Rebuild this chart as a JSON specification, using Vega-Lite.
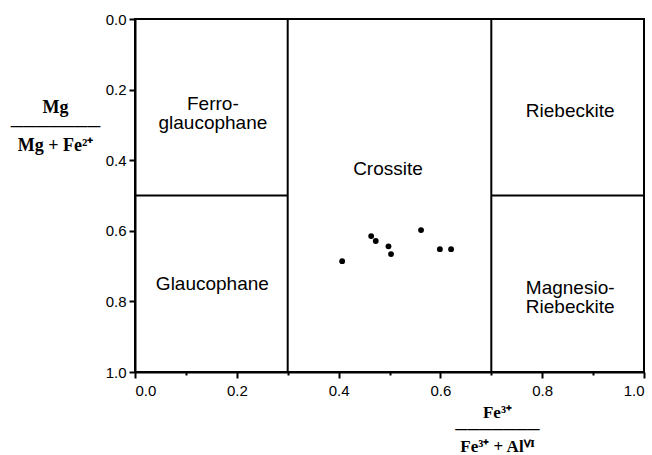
{
  "$schema": "https://vega.github.io/schema/vega-lite/v6.json",
  "width": 509,
  "height": 353,
  "autosize": {"type": "none"},
  "padding": {"left": 135, "top": 19, "right": 8, "bottom": 83},
  "background": "white",
  "config": {
    "view": {"stroke": "black", "strokeWidth": 2},
    "axis": {
      "grid": false,
      "domainColor": "black",
      "domainWidth": 2,
      "tickColor": "black",
      "tickWidth": 2,
      "labelFont": "Liberation Sans",
      "labelFontSize": 15,
      "labelColor": "black",
      "titleColor": "black",
      "titleFont": "Liberation Serif",
      "titleFontWeight": "bold",
      "titleFontSize": 18
    }
  },
  "datasets": {
    "lines": [
      {"x": 0.3, "x2": 0.3, "y": 0, "y2": 1},
      {"x": 0.7, "x2": 0.7, "y": 0, "y2": 1},
      {"x": 0, "x2": 0.3, "y": 0.5, "y2": 0.5},
      {"x": 0.7, "x2": 1, "y": 0.5, "y2": 0.5}
    ],
    "samples": [
      {"fe3": 0.407, "mg": 0.686},
      {"fe3": 0.464, "mg": 0.615},
      {"fe3": 0.473, "mg": 0.629},
      {"fe3": 0.498, "mg": 0.644},
      {"fe3": 0.503, "mg": 0.666},
      {"fe3": 0.562, "mg": 0.598},
      {"fe3": 0.599, "mg": 0.652},
      {"fe3": 0.621, "mg": 0.652}
    ],
    "fields": [
      {"label": "Ferro-\nglaucophane", "x": 0.153, "y": 0.242},
      {"label": "Glaucophane", "x": 0.152, "y": 0.751},
      {"label": "Crossite", "x": 0.497, "y": 0.425},
      {"label": "Riebeckite", "x": 0.855, "y": 0.261},
      {"label": "Magnesio-\nRiebeckite", "x": 0.855, "y": 0.763}
    ]
  },
  "layer": [
    {
      "data": {"name": "lines"},
      "mark": {"type": "rule", "color": "black", "strokeWidth": 2},
      "encoding": {
        "x": {
          "field": "x", "type": "quantitative",
          "scale": {"domain": [0, 1], "nice": false},
          "axis": {
            "values": [0, 0.1, 0.2, 0.3, 0.4, 0.5, 0.6, 0.7, 0.8, 0.9, 1.0],
            "labelExpr": "round(datum.value*10)%2==0 ? format(datum.value,'.1f') : ''",
            "tickSize": {"condition": {"test": "round(datum.value*10)%2==0", "value": 6}, "value": 3},
            "labelPadding": 5,
            "title": ["Fe³⁺", "───────", "Fe³⁺ + Alⱽᴵ"],
            "titleFontSize": 17,
            "titleLineHeight": 17,
            "titleAlign": "center",
            "titleAnchor": "start",
            "titleBaseline": "top",
            "titleX": 362,
            "titleY": 32
          }
        },
        "x2": {"field": "x2"},
        "y": {
          "field": "y", "type": "quantitative",
          "scale": {"domain": [0, 1], "nice": false, "reverse": true},
          "axis": {
            "values": [0, 0.1, 0.2, 0.3, 0.4, 0.5, 0.6, 0.7, 0.8, 0.9, 1.0],
            "labelExpr": "round(datum.value*10)%2==0 ? format(datum.value,'.1f') : ''",
            "tickSize": {"condition": {"test": "round(datum.value*10)%2==0", "value": 6}, "value": 3},
            "labelPadding": 3,
            "title": ["Mg", "───────", "Mg + Fe²⁺"],
            "titleLineHeight": 19,
            "titleAngle": 0,
            "titleAlign": "center",
            "titleAnchor": "start",
            "titleBaseline": "top",
            "titleX": -80,
            "titleY": 79
          }
        },
        "y2": {"field": "y2"}
      }
    },
    {
      "data": {"name": "samples"},
      "mark": {"type": "circle", "color": "black", "opacity": 1, "size": 34},
      "encoding": {
        "x": {"field": "fe3", "type": "quantitative"},
        "y": {"field": "mg", "type": "quantitative"}
      }
    },
    {
      "data": {"name": "fields"},
      "mark": {"type": "text", "font": "Liberation Sans", "fontSize": 19, "color": "black", "lineBreak": "\n", "lineHeight": 19, "align": "center", "baseline": "middle"},
      "encoding": {
        "x": {"field": "x", "type": "quantitative"},
        "y": {"field": "y", "type": "quantitative"},
        "text": {"field": "label"}
      }
    }
  ]
}
